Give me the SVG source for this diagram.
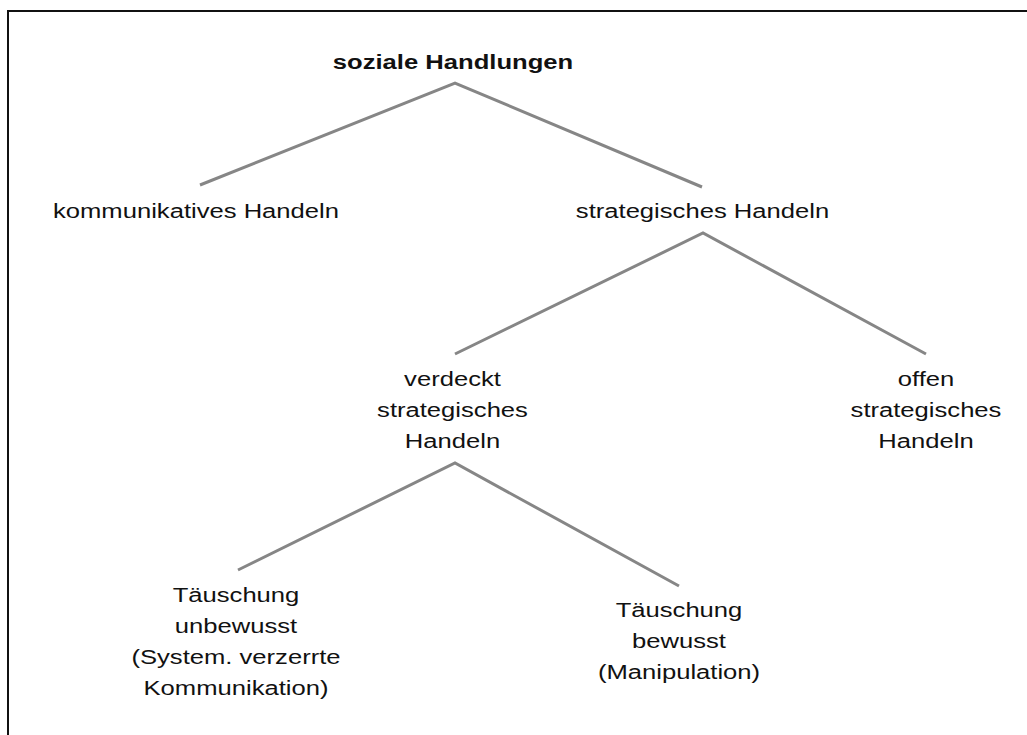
<svg xmlns="http://www.w3.org/2000/svg" width="1027" height="735" viewBox="0 0 1027 735">
<style>
.t{font-family:"Liberation Sans",Arial,sans-serif;font-size:21px;fill:#111;text-anchor:middle}
.b{font-weight:bold}
.c{stroke:#868686;stroke-width:3;fill:none}
</style>
<rect width="1027" height="735" fill="#fff"/>
<path d="M8,736 V11 H1028" fill="none" stroke="#111" stroke-width="2"/>
<g id="connectors">
<polyline class="c" points="200,185 455,83 702,187"/>
<polyline class="c" points="455,354 703,233 926,354"/>
<polyline class="c" points="238,570 455,463 679,586"/>
</g>
<g id="soziale" transform="translate(453 0) scale(1.22 1)"><text class="t b" x="0" y="69">soziale Handlungen</text></g>
<g id="kommunikativ" transform="translate(196 0) scale(1.22 1)"><text class="t" x="0" y="218">kommunikatives Handeln</text></g>
<g id="strategisch" transform="translate(702.5 0) scale(1.22 1)"><text class="t" x="0" y="218">strategisches Handeln</text></g>
<g id="verdeckt" transform="translate(452.5 0) scale(1.22 1)"><text class="t" x="0" y="386"><tspan x="0">verdeckt</tspan><tspan x="0" y="417">strategisches</tspan><tspan x="0" y="448">Handeln</tspan></text></g>
<g id="offen" transform="translate(926 0) scale(1.22 1)"><text class="t" x="0" y="386"><tspan x="0">offen</tspan><tspan x="0" y="417">strategisches</tspan><tspan x="0" y="448">Handeln</tspan></text></g>
<g id="unbewusst" transform="translate(236 0) scale(1.22 1)"><text class="t" x="0" y="602"><tspan x="0">Täuschung</tspan><tspan x="0" y="633">unbewusst</tspan><tspan x="0" y="664">(System. verzerrte</tspan><tspan x="0" y="695">Kommunikation)</tspan></text></g>
<g id="bewusst" transform="translate(679 0) scale(1.22 1)"><text class="t" x="0" y="617"><tspan x="0">Täuschung</tspan><tspan x="0" y="648">bewusst</tspan><tspan x="0" y="679">(Manipulation)</tspan></text></g>
</svg>
